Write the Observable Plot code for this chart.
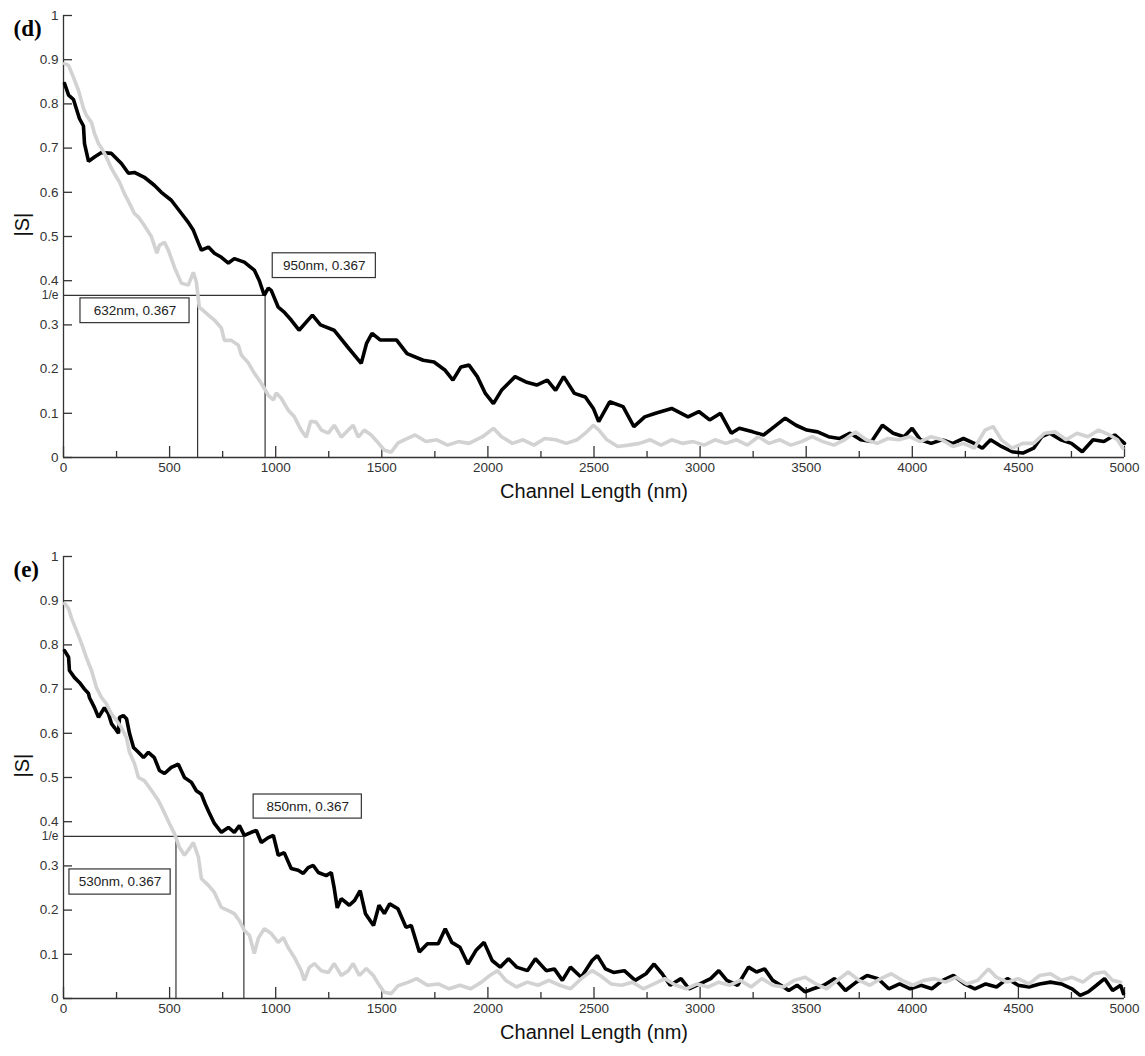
<!DOCTYPE html>
<html>
<head>
<meta charset="utf-8">
<script src="https://cdn.jsdelivr.net/npm/d3@7"></script>
<script src="https://cdn.jsdelivr.net/npm/@observablehq/plot@0.6"></script>
<style>
  body { margin: 0; background: #fff; }
  #chart svg { display: block; }
</style>
</head>
<body>
<div id="chart"></div>
<script>
const dBlack = [[5,0.846],[24,0.82],[47,0.81],[75,0.767],[94,0.75],[99,0.71],[118,0.67],[146,0.68],[179,0.69],[226,0.688],[273,0.665],[306,0.643],[334,0.645],[381,0.634],[428,0.616],[461,0.6],[508,0.582],[556,0.552],[588,0.532],[612,0.514],[636,0.485],[650,0.469],[683,0.476],[711,0.462],[744,0.453],[777,0.44],[805,0.45],[852,0.442],[899,0.424],[923,0.4],[946,0.367],[965,0.383],[979,0.378],[1012,0.34],[1040,0.329],[1073,0.311],[1110,0.288],[1173,0.322],[1211,0.3],[1275,0.288],[1339,0.25],[1403,0.213],[1428,0.258],[1454,0.281],[1492,0.266],[1569,0.266],[1619,0.235],[1695,0.22],[1746,0.216],[1797,0.198],[1835,0.175],[1873,0.205],[1911,0.209],[1950,0.183],[1988,0.145],[2026,0.122],[2064,0.152],[2128,0.183],[2179,0.171],[2230,0.164],[2280,0.175],[2319,0.152],[2357,0.183],[2408,0.145],[2459,0.137],[2497,0.111],[2522,0.081],[2574,0.126],[2637,0.115],[2688,0.07],[2739,0.092],[2790,0.1],[2866,0.111],[2943,0.092],[2994,0.104],[3045,0.085],[3096,0.1],[3147,0.055],[3185,0.066],[3248,0.058],[3299,0.051],[3350,0.07],[3401,0.089],[3452,0.073],[3503,0.062],[3554,0.058],[3605,0.047],[3656,0.043],[3707,0.055],[3757,0.04],[3808,0.036],[3859,0.073],[3910,0.055],[3961,0.047],[3999,0.066],[4038,0.04],[4089,0.032],[4140,0.04],[4191,0.032],[4241,0.043],[4292,0.032],[4330,0.021],[4369,0.04],[4420,0.025],[4470,0.013],[4521,0.01],[4572,0.021],[4610,0.047],[4648,0.055],[4699,0.04],[4750,0.032],[4801,0.013],[4852,0.04],[4903,0.036],[4954,0.051],[5000,0.032]];
const dGray = [[5,0.891],[24,0.887],[47,0.86],[71,0.83],[94,0.79],[108,0.774],[132,0.758],[146,0.733],[165,0.71],[179,0.7],[202,0.68],[226,0.654],[250,0.634],[264,0.623],[287,0.597],[311,0.575],[334,0.552],[353,0.544],[381,0.525],[414,0.5],[440,0.462],[452,0.48],[476,0.487],[494,0.469],[523,0.43],[556,0.394],[588,0.39],[612,0.419],[626,0.397],[640,0.34],[683,0.322],[711,0.311],[744,0.293],[758,0.265],[791,0.265],[824,0.254],[838,0.232],[871,0.214],[899,0.191],[932,0.168],[965,0.141],[989,0.13],[1003,0.146],[1026,0.134],[1059,0.107],[1088,0.092],[1120,0.062],[1144,0.046],[1165,0.082],[1191,0.08],[1215,0.062],[1248,0.055],[1276,0.073],[1309,0.046],[1342,0.062],[1365,0.073],[1389,0.046],[1417,0.062],[1450,0.051],[1483,0.033],[1511,0.017],[1544,0.012],[1577,0.033],[1606,0.04],[1657,0.051],[1708,0.036],[1759,0.04],[1810,0.028],[1861,0.036],[1911,0.032],[1975,0.047],[2026,0.066],[2064,0.047],[2115,0.032],[2166,0.04],[2217,0.028],[2268,0.043],[2319,0.04],[2370,0.032],[2420,0.04],[2459,0.055],[2497,0.073],[2523,0.062],[2561,0.04],[2612,0.025],[2663,0.028],[2714,0.032],[2765,0.04],[2816,0.028],[2866,0.04],[2917,0.032],[2968,0.036],[3019,0.028],[3070,0.04],[3121,0.032],[3172,0.04],[3223,0.028],[3274,0.047],[3325,0.032],[3376,0.04],[3427,0.028],[3478,0.036],[3528,0.047],[3579,0.036],[3630,0.028],[3681,0.04],[3732,0.058],[3783,0.04],[3834,0.032],[3885,0.043],[3936,0.04],[3987,0.047],[4038,0.036],[4089,0.047],[4140,0.04],[4191,0.025],[4241,0.032],[4292,0.021],[4343,0.062],[4381,0.07],[4420,0.04],[4470,0.021],[4521,0.032],[4572,0.032],[4623,0.055],[4674,0.058],[4725,0.04],[4776,0.055],[4827,0.047],[4878,0.062],[4929,0.051],[4967,0.04],[4992,0.021]];
const eBlack = [[5,0.787],[24,0.772],[28,0.742],[52,0.726],[75,0.715],[99,0.7],[118,0.69],[122,0.681],[146,0.658],[165,0.636],[179,0.647],[193,0.658],[212,0.644],[226,0.622],[240,0.613],[259,0.6],[264,0.636],[282,0.64],[297,0.633],[311,0.6],[330,0.568],[353,0.557],[377,0.545],[400,0.557],[428,0.545],[452,0.516],[476,0.509],[508,0.523],[541,0.53],[570,0.5],[603,0.489],[626,0.47],[650,0.462],[668,0.44],[685,0.422],[711,0.396],[744,0.376],[777,0.387],[805,0.376],[829,0.391],[852,0.369],[885,0.376],[909,0.38],[932,0.353],[965,0.364],[989,0.369],[1012,0.324],[1040,0.33],[1073,0.294],[1106,0.29],[1130,0.283],[1153,0.296],[1177,0.301],[1201,0.285],[1238,0.278],[1262,0.285],[1276,0.249],[1290,0.205],[1309,0.226],[1347,0.211],[1372,0.222],[1398,0.244],[1423,0.192],[1461,0.165],[1487,0.211],[1512,0.192],[1537,0.214],[1576,0.203],[1614,0.161],[1639,0.165],[1677,0.105],[1715,0.124],[1766,0.124],[1799,0.158],[1830,0.127],[1868,0.116],[1906,0.078],[1944,0.109],[1982,0.127],[2020,0.086],[2058,0.071],[2097,0.09],[2135,0.071],[2186,0.063],[2224,0.09],[2275,0.063],[2313,0.067],[2351,0.041],[2389,0.071],[2440,0.048],[2491,0.086],[2516,0.097],[2554,0.067],[2592,0.059],[2643,0.063],[2694,0.041],[2745,0.056],[2783,0.078],[2821,0.056],[2859,0.03],[2910,0.045],[2948,0.022],[2999,0.033],[3050,0.045],[3088,0.063],[3126,0.041],[3177,0.03],[3228,0.071],[3266,0.06],[3304,0.067],[3342,0.041],[3380,0.03],[3418,0.018],[3457,0.03],[3495,0.015],[3533,0.022],[3583,0.03],[3634,0.045],[3685,0.018],[3736,0.037],[3787,0.052],[3838,0.045],[3889,0.022],[3940,0.033],[3990,0.022],[4041,0.03],[4092,0.022],[4143,0.041],[4194,0.052],[4245,0.033],[4295,0.022],[4346,0.033],[4397,0.026],[4448,0.045],[4499,0.03],[4550,0.026],[4600,0.033],[4651,0.037],[4702,0.033],[4753,0.022],[4791,0.007],[4829,0.015],[4868,0.03],[4906,0.045],[4944,0.018],[4982,0.03],[4995,0.011]];
const eGray = [[5,0.894],[24,0.882],[38,0.86],[61,0.833],[85,0.803],[108,0.771],[132,0.742],[155,0.704],[179,0.681],[202,0.667],[226,0.644],[250,0.629],[273,0.613],[297,0.59],[311,0.557],[334,0.532],[353,0.5],[381,0.493],[414,0.471],[447,0.448],[471,0.425],[499,0.396],[523,0.373],[546,0.342],[570,0.324],[593,0.339],[612,0.353],[636,0.319],[650,0.271],[683,0.256],[711,0.24],[744,0.206],[777,0.199],[805,0.192],[829,0.176],[852,0.154],[876,0.143],[899,0.102],[918,0.136],[946,0.158],[979,0.147],[1012,0.127],[1036,0.138],[1059,0.115],[1088,0.093],[1120,0.063],[1135,0.041],[1158,0.07],[1182,0.079],[1215,0.063],[1248,0.059],[1276,0.079],[1309,0.052],[1342,0.063],[1365,0.079],[1394,0.052],[1427,0.068],[1460,0.052],[1483,0.034],[1511,0.014],[1544,0.011],[1577,0.029],[1626,0.037],[1664,0.045],[1715,0.03],[1766,0.033],[1817,0.022],[1868,0.03],[1919,0.022],[1970,0.037],[2008,0.052],[2046,0.063],[2084,0.041],[2135,0.026],[2186,0.037],[2236,0.03],[2287,0.041],[2338,0.03],[2389,0.022],[2440,0.045],[2491,0.063],[2529,0.052],[2580,0.033],[2630,0.03],[2681,0.037],[2732,0.022],[2783,0.033],[2834,0.045],[2885,0.03],[2935,0.022],[2986,0.033],[3037,0.026],[3088,0.037],[3139,0.03],[3190,0.041],[3240,0.026],[3291,0.045],[3342,0.03],[3393,0.026],[3444,0.041],[3495,0.048],[3546,0.033],[3596,0.022],[3647,0.041],[3698,0.06],[3749,0.041],[3800,0.03],[3851,0.045],[3901,0.056],[3952,0.041],[4003,0.03],[4054,0.041],[4105,0.045],[4156,0.037],[4206,0.048],[4257,0.033],[4308,0.041],[4359,0.067],[4397,0.048],[4448,0.037],[4499,0.045],[4550,0.033],[4600,0.052],[4651,0.056],[4702,0.041],[4753,0.048],[4804,0.037],[4855,0.056],[4906,0.06],[4944,0.041],[4982,0.037]];

// 1/e crossings (nm) and annotation labels
const threshold = 0.367;
const dCross = [632, 950];
const eCross = [530, 850];
const dLabels = ["632nm, 0.367", "950nm, 0.367"];
const eLabels = ["530nm, 0.367", "850nm, 0.367"];
// label boxes in data units [x1, x2, y1, y2]
const dBoxes = [[80, 594, 0.304, 0.360], [986, 1472, 0.406, 0.462]];
const eBoxes = [[28, 505, 0.235, 0.292], [896, 1406, 0.407, 0.4615]];

const xMajor = [0, 500, 1000, 1500, 2000, 2500, 3000, 3500, 4000, 4500, 5000];
const xMinor = [250, 750, 1250, 1750, 2250, 2750, 3250, 3750, 4250, 4750];
const yTicks = [0, 0.1, 0.2, 0.3, 0.4, 0.5, 0.6, 0.7, 0.8, 0.9, 1];

const ink = "#333";

function panel(tag, black, gray, cross, labels, boxes, height, top, bottom) {
  const boxData = boxes.map((b, i) => ({x1: b[0], x2: b[1], y1: b[2], y2: b[3], label: labels[i]}));
  const plotH = height - top - bottom;
  const plotW = 1145 - 63 - 21;
  const majorLen = 11 / plotH;       // inward tick lengths (px) in data units
  const minorLen = 6 / plotH;
  const yTickLen = 9 * 5000 / plotW;
  return Plot.plot({
    width: 1145,
    height,
    marginLeft: 63,
    marginRight: 21,
    marginTop: top,
    marginBottom: bottom,
    style: {fontFamily: "'Liberation Sans', Arial, sans-serif", fontSize: "13.5px", color: ink, background: "#fff", overflow: "visible"},
    x: {domain: [0, 5000]},
    y: {domain: [0, 1]},
    marks: [
      Plot.axisX({ticks: xMajor, tickSize: 0, tickPadding: 5, tickFormat: d => String(d), label: null, fontSize: 13.5}),
      Plot.axisY({ticks: yTicks, tickSize: 0, tickPadding: 5, tickFormat: d => String(d), label: null, fontSize: 13.5}),
      Plot.ruleX(xMajor, {x: d => d, y1: () => 0, y2: () => majorLen, stroke: ink, strokeWidth: 1.3}),
      Plot.ruleX(xMinor, {x: d => d, y1: () => 0, y2: () => minorLen, stroke: ink, strokeWidth: 1.3}),
      Plot.ruleY(yTicks, {y: d => d, x1: () => 0, x2: () => yTickLen, stroke: ink, strokeWidth: 1.3}),
      Plot.ruleX([0], {stroke: ink, strokeWidth: 1.3}),
      Plot.ruleY([0], {stroke: ink, strokeWidth: 1.3}),
      Plot.ruleY([threshold], {y: d => d, x1: () => 0, x2: () => cross[1], stroke: ink, strokeWidth: 1.2}),
      Plot.ruleX(cross, {x: d => d, y1: () => 0, y2: () => threshold, stroke: ink, strokeWidth: 1.2}),
      Plot.line(black, {x: d => d[0], y: d => d[1], stroke: "#000", strokeWidth: 3.6, strokeLinejoin: "miter"}),
      Plot.line(gray, {x: d => d[0], y: d => d[1], stroke: "#d2d2d2", strokeWidth: 3.6, strokeLinejoin: "miter"}),
      Plot.rect(boxData, {x1: "x1", x2: "x2", y1: "y1", y2: "y2", fill: "#fff", stroke: ink, strokeWidth: 1.2}),
      Plot.text(boxData, {x: d => (d.x1 + d.x2) / 2, y: d => (d.y1 + d.y2) / 2, text: "label", fontSize: 13.5, fill: "#222"}),
      Plot.text(["1/e"], {x: () => 0, y: () => threshold, text: d => d, dx: -5, textAnchor: "end", fontSize: 12, fill: ink}),
      Plot.text(["|S|"], {frameAnchor: "left", text: d => d, dx: -41, rotate: -90, fontSize: 20, fill: "#111"}),
      Plot.text(["Channel Length (nm)"], {frameAnchor: "bottom", text: d => d, dy: 40, fontSize: 20, fill: "#111"}),
      Plot.text([tag], {frameAnchor: "top-left", text: d => d, dx: -50, dy: 4, textAnchor: "start",
        fontFamily: "'Liberation Serif', 'Times New Roman', serif", fontWeight: "bold", fontSize: 23, fill: "#000"})
    ]
  });
}

const root = document.getElementById("chart");
root.appendChild(panel("(d)", dBlack, dGray, dCross, dLabels, dBoxes, 540, 15, 83));
root.appendChild(panel("(e)", eBlack, eGray, eCross, eLabels, eBoxes, 516, 16, 58));
</script>
</body>
</html>
